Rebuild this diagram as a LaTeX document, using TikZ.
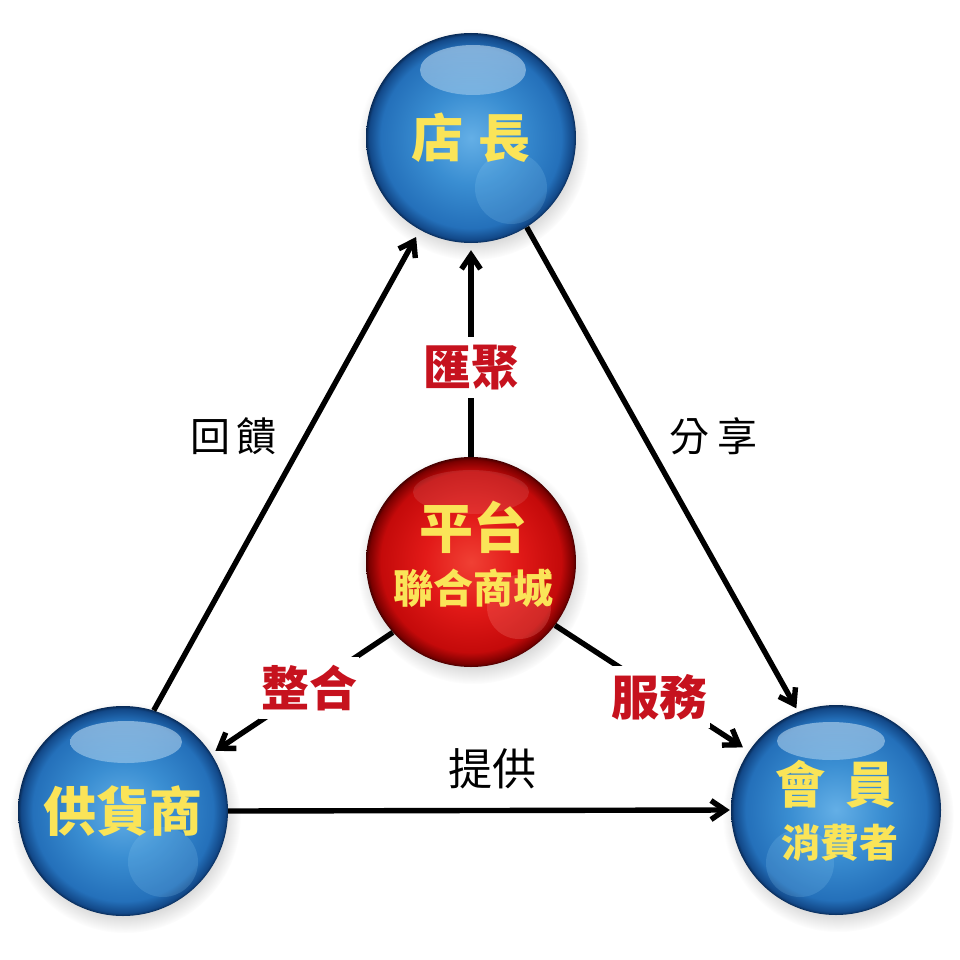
\documentclass[tikz,border=0pt]{standalone}
\usepackage{fontspec}
\newfontfamily\cjk{Noto Sans CJK TC}
\usetikzlibrary{arrows.meta,shadows}
\definecolor{bcA}{RGB}{100,175,230}
\definecolor{bcB}{RGB}{58,142,210}
\definecolor{bcC}{RGB}{36,112,186}
\definecolor{bcD}{RGB}{18,72,136}
\definecolor{bcE}{RGB}{8,42,86}
\definecolor{rcA}{RGB}{240,64,52}
\definecolor{rcB}{RGB}{226,26,24}
\definecolor{rcC}{RGB}{196,10,10}
\definecolor{rcD}{RGB}{122,0,0}
\definecolor{rcE}{RGB}{70,0,0}
\definecolor{txtyellow}{RGB}{250,228,88}
\definecolor{lblred}{RGB}{198,18,30}
\definecolor{hlblue}{RGB}{150,210,245}
\definecolor{hlred}{RGB}{255,150,140}
\pgfdeclareradialshading{bluesph}{\pgfpoint{0bp}{0bp}}{color(0bp)=(bcA); color(11bp)=(bcB); color(21.5bp)=(bcC); color(24.3bp)=(bcD); color(25bp)=(bcE); color(50bp)=(bcE)}
\pgfdeclareradialshading{redsph}{\pgfpoint{0bp}{0bp}}{color(0bp)=(rcA); color(11bp)=(rcB); color(21.5bp)=(rcC); color(24.3bp)=(rcD); color(25bp)=(rcE); color(50bp)=(rcE)}
\tikzset{
  sphere/.style={circle, minimum size=210pt, inner sep=0pt,
    circular drop shadow={shadow xshift=2pt, shadow yshift=-6pt, opacity=.28}},
  bluesphere/.style={sphere, shading=bluesph},
  redsphere/.style={sphere, shading=redsph},
  gloss/.style={top color=white!75!bcA, bottom color=bcB, opacity=.55},
  spheretext/.style={text=txtyellow, font=\cjk\bfseries},
  redlabel/.style={text=lblred, font=\cjk\bfseries\fontsize{48pt}{48pt}\selectfont, fill=white, inner xsep=2pt, inner ysep=8pt},
  blacklabel/.style={text=black, font=\cjk\fontsize{40pt}{40pt}\selectfont, inner sep=0pt},
  conn/.style={line width=5.4pt, -{Straight Barb[length=14pt,width=19pt]}}
}
\begin{document}
\begin{tikzpicture}[x=1pt,y=-1pt]
\fill[white] (0,0) rectangle (960,960);
\useasboundingbox (0,0) rectangle (960,960);

% spheres
\node[bluesphere, spheretext, path picture={
    \shade[gloss] (path picture bounding box.center) ++(2pt,68pt) ellipse [x radius=53pt, y radius=25pt];
    \fill[hlblue, opacity=.18] (path picture bounding box.center) ++(40pt,-50pt) circle [radius=36pt];
  }] (top) at (471,138) {\fontsize{52pt}{52pt}\selectfont 店\hspace{16pt}長};

\node[bluesphere, spheretext, path picture={
    \shade[gloss] (path picture bounding box.center) ++(3pt,69pt) ellipse [x radius=56pt, y radius=21pt];
    \fill[hlblue, opacity=.18] (path picture bounding box.center) ++(40pt,-51pt) circle [radius=35pt];
  }] (sup) at (123,811) {\fontsize{53pt}{53pt}\selectfont 供貨商};

\node[bluesphere, path picture={
    \shade[gloss] (path picture bounding box.center) ++(-5pt,69pt) ellipse [x radius=54pt, y radius=19pt];
    \fill[hlblue, opacity=.18] (path picture bounding box.center) ++(-36pt,-53pt) circle [radius=34pt];
  }] (mem) at (836,810) {};

\node[redsphere, path picture={
    \fill[white, opacity=.10] (path picture bounding box.center) ++(0pt,70pt) ellipse [x radius=58pt, y radius=22pt];
    \fill[hlred, opacity=.22] (path picture bounding box.center) ++(48pt,-45pt) circle [radius=32pt];
  }] (red) at (471,562) {};

% texts inside two-line spheres
\node[spheretext, font=\cjk\bfseries\fontsize{54pt}{54pt}\selectfont, inner sep=0pt] (redt1) at (473,527) {平台};
\node[spheretext, font=\cjk\bfseries\fontsize{40pt}{40pt}\selectfont, inner sep=0pt] (redt2) at (473,588) {聯合商城};
\node[spheretext, font=\cjk\bfseries\fontsize{50pt}{50pt}\selectfont, inner sep=0pt] (memt1) at (835,784) {會\hspace{20pt}員};
\node[spheretext, font=\cjk\bfseries\fontsize{39pt}{39pt}\selectfont, inner sep=0pt] (memt2) at (840,843) {消費者};

% connectors
\draw[conn, shorten >=7pt] (red.90) -- node[redlabel, pos=0.42] (lh) {匯聚} (top.270);
\draw[conn, shorten >=5pt] (red.222) -- node[redlabel, pos=0.46] (lz) {整合} (sup.33.5);
\draw[conn, shorten >=7pt] (red.323) -- node[redlabel, pos=0.54, yshift=-4pt] (lf) {服務} (mem.146);
\draw[conn, shorten >=8pt] (sup.73.5) -- (top.241.6);
\draw[conn, shorten >=4pt] (top.302) -- (mem.111);
\draw[conn, shorten >=1pt] (sup.0) -- (mem.180);

% edge labels
\node[blacklabel] (lhk) at (233,436) {回\hspace{6pt}饋};
\node[blacklabel] (lfx) at (713,436) {分\hspace{8pt}享};
\node[blacklabel, font=\cjk\fontsize{44pt}{44pt}\selectfont] (ltg) at (492,769) {提供};
\end{tikzpicture}
\end{document}
